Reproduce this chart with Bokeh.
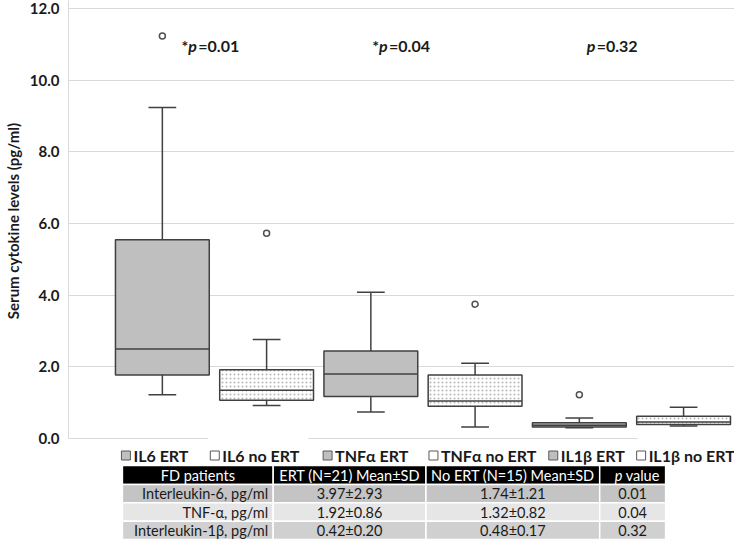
import numpy as np
from bokeh.plotting import figure
from bokeh.layouts import column
from bokeh.models import Range1d, FixedTicker, PrintfTickFormatter
from bokeh.core.properties import value
from bokeh.embed import file_html
from bokeh.resources import INLINE

# ---------------- data ----------------
cats = ["IL6 ERT", "IL6 no ERT", "TNFα ERT", "TNFα no ERT", "IL1β ERT", "IL1β no ERT"]
is_ert = [True, False, True, False, True, False]
whisker_low = [1.22, 0.92, 0.74, 0.32, 0.30, 0.35]
q1 = [1.77, 1.07, 1.17, 0.90, 0.32, 0.39]
median = [2.50, 1.35, 1.80, 1.05, 0.37, 0.46]
q3 = [5.55, 1.92, 2.44, 1.77, 0.44, 0.62]
whisker_high = [9.24, 2.76, 4.08, 2.10, 0.57, 0.87]
outlier_cat = ["IL6 ERT", "IL6 no ERT", "TNFα no ERT", "IL1β ERT"]
outlier_val = [11.23, 5.73, 3.75, 1.22]
p_labels = [("*", "0.01"), ("*", "0.04"), ("", "0.32")]
y_ticks = [0, 2, 4, 6, 8, 10, 12]
y_title = "Serum cytokine levels (pg/ml)"

table_header = ["FD patients", "ERT (N=21) Mean±SD", "No ERT (N=15) Mean±SD", "p value"]
row_labels = ["Interleukin-6, pg/ml", "TNF-α, pg/ml", "Interleukin-1β, pg/ml"]
ert_vals = ["3.97±2.93", "1.92±0.86", "0.42±0.20"]
noert_vals = ["1.74±1.21", "1.32±0.82", "0.48±0.17"]
p_vals = ["0.01", "0.04", "0.32"]

# ---------------- layout (canvas pixels) ----------------
W = 734
H1, H2 = 447, 92            # chart figure / legend+table figure
LEFT = 67
BOT1 = 6
fl, fr = LEFT, W            # frame left/right (both figures share it in the column)
ft, fb = 0, H1 - BOT1       # chart frame top/bottom
zero_px = 438.0
top12_px = 8.0
ppu = (zero_px - top12_px) / 12.0   # pixels per y unit
first_c = 161.0
ppc = 104.4                         # pixels per category

FONT = "Lato"
GREY = "#bfbfbf"
EDGE = "#404040"
TXT = "#1a1a1a"

x_range = Range1d(1 - (first_c - fl) / ppc, 1 + (fr - first_c) / ppc)
y_range = Range1d((zero_px - fb) / ppu, (zero_px - ft) / ppu)

p = figure(width=W, height=H1, x_range=x_range, y_range=y_range,
           output_backend="svg", toolbar_location=None, x_axis_location=None,
           min_border_left=LEFT, min_border_right=0, min_border_top=0, min_border_bottom=BOT1)
p.extra_x_ranges = {"px": Range1d(fl, fr)}
p.extra_y_ranges = {"px": Range1d(fb, ft)}
p.outline_line_color = None
p.xgrid.visible = False
p.ygrid.grid_line_color = "#d9d9d9"
p.ygrid.grid_line_width = 1

ax = p.yaxis[0]
ax.ticker = FixedTicker(ticks=y_ticks)
ax.formatter = PrintfTickFormatter(format="%.1f")
ax.bounds = (0, y_range.end)
ax.axis_line_color = "#d9d9d9"
ax.major_tick_line_color = None
ax.minor_tick_line_color = None
ax.major_tick_out = 0
ax.major_tick_in = 0
ax.major_label_standoff = 9
ax.major_label_text_font = FONT
ax.major_label_text_font_style = "bold"
ax.major_label_text_font_size = "15px"
ax.major_label_text_color = TXT
ax.axis_label = y_title
ax.axis_label_text_font = FONT
ax.axis_label_text_font_style = "bold"
ax.axis_label_text_font_size = "15px"
ax.axis_label_text_color = TXT
ax.axis_label_standoff = 5

# ---------------- boxes ----------------
xs = np.arange(len(cats)) + 1.0
BW, CW = 0.90, 0.266
wl, a1, md, a3, wh = map(np.array, (whisker_low, q1, median, q3, whisker_high))
ert = np.array(is_ert)

p.segment(x0=xs, x1=xs, y0=a3, y1=wh, line_color=EDGE, line_width=1.5)
p.segment(x0=xs, x1=xs, y0=wl, y1=a1, line_color=EDGE, line_width=1.5)
p.segment(x0=xs - CW / 2, x1=xs + CW / 2, y0=wh, y1=wh, line_color=EDGE, line_width=1.5)
p.segment(x0=xs - CW / 2, x1=xs + CW / 2, y0=wl, y1=wl, line_color=EDGE, line_width=1.5)

p.vbar(x=xs[ert], width=BW, bottom=a1[ert], top=a3[ert], fill_color=GREY,
       line_color=EDGE, line_width=1.5)
p.vbar(x=xs[~ert], width=BW, bottom=a1[~ert], top=a3[~ert], fill_color="white",
       hatch_pattern="dot", hatch_color="#b5b5b5", hatch_scale=4, hatch_weight=0.6,
       line_color=EDGE, line_width=1.5)
p.segment(x0=xs - BW / 2, x1=xs + BW / 2, y0=md, y1=md, line_color=EDGE, line_width=1.5)

ox = [cats.index(c) + 1.0 for c in outlier_cat]
p.scatter(x=ox, y=outlier_val, marker="circle", size=6, fill_color="white",
          line_color="#505050", line_width=1.5)

# white legend-entry backgrounds that cover parts of the zero line
p.quad(left=[207, 637], right=[307, fr], bottom=[435.5, 435.5], top=[441, 441],
       fill_color="white", line_color=None, x_range_name="px", y_range_name="px")

# ---------------- p-value annotations ----------------
p_split = [197, 388, 596]
p_y = 45
for (star, pv), xsplit in zip(p_labels, p_split):
    common = dict(x_range_name="px", y_range_name="px", text_font=value(FONT),
                  text_font_size="16px", text_baseline="middle", text_color=TXT)
    p.text(x=[xsplit - 10], y=[p_y], text=["p"], text_align="left",
           text_font_style="bold italic", **common)
    p.text(x=[xsplit], y=[p_y], text=["=" + pv], text_align="left",
           text_font_style="bold", **common)
    if star:
        p.text(x=[xsplit - 10], y=[p_y], text=[star], text_align="right",
               text_font_style="bold", **common)

# ---------------- legend + table figure (page-pixel canvas, frame aligned with chart) ----------------
q = figure(width=W, height=H2, x_range=Range1d(fl, fr), y_range=Range1d(H1 + H2, H1),
           output_backend="svg", toolbar_location=None, x_axis_location=None,
           y_axis_location=None, min_border=0, min_border_left=LEFT)
q.outline_line_color = None
q.grid.visible = False

leg_x = [120, 209, 322, 428, 548, 636]
leg_y = 455
lx = np.array(leg_x, dtype=float)
q.quad(left=lx, right=lx + 9, bottom=leg_y - 4.5, top=leg_y + 4.5,
       fill_color=[GREY if e else "white" for e in is_ert], line_color="#595959",
       line_width=1)
q.text(x=lx + 12, y=[leg_y] * len(cats), text=cats, text_align="left",
       text_baseline="middle", text_font=value(FONT), text_font_style="bold",
       text_font_size="16px", text_color=TXT)

col_edges = [121, 272, 425, 599, 665]
t_top = 465.0
head_h = 19.0
row_h = (H1 + H2 - t_top - head_h) / 3
row_fill = ["#c4c4c4", "#e6e6e6", "#d0d0d0"]

cl = np.array(col_edges[:-1], dtype=float)
cr = np.array(col_edges[1:], dtype=float)
cc = (cl + cr) / 2
q.quad(left=cl, right=cr, bottom=t_top, top=t_top + head_h, fill_color="black",
       line_color="white", line_width=1.5)
hy = t_top + head_h / 2
tcommon = dict(text_font=value(FONT), text_font_size="14.5px", text_baseline="middle")
q.text(x=cc[:3], y=[hy] * 3, text=table_header[:3], text_align="center",
       text_color="white", **tcommon)
pv_word = table_header[3].split(" ")
q.text(x=[cc[3] - 18], y=[hy], text=[pv_word[0]], text_align="left",
       text_color="white", text_font_style="italic", **tcommon)
q.text(x=[cc[3] - 7], y=[hy], text=[pv_word[1]], text_align="left",
       text_color="white", **tcommon)

for i in range(len(row_labels)):
    top_ = t_top + head_h + i * row_h
    q.quad(left=cl, right=cr, bottom=top_, top=top_ + row_h, fill_color=row_fill[i],
           line_color="white", line_width=1.5)
    ry = top_ + row_h / 2
    q.text(x=[cr[0] - 5], y=[ry], text=[row_labels[i]], text_align="right",
           text_color=TXT, **tcommon)
    q.text(x=cc[1:], y=[ry] * 3, text=[ert_vals[i], noert_vals[i], p_vals[i]],
           text_align="center", text_color=TXT, **tcommon)

layout = column(p, q, spacing=0)
open("out.html", "w").write(file_html(layout, INLINE))
